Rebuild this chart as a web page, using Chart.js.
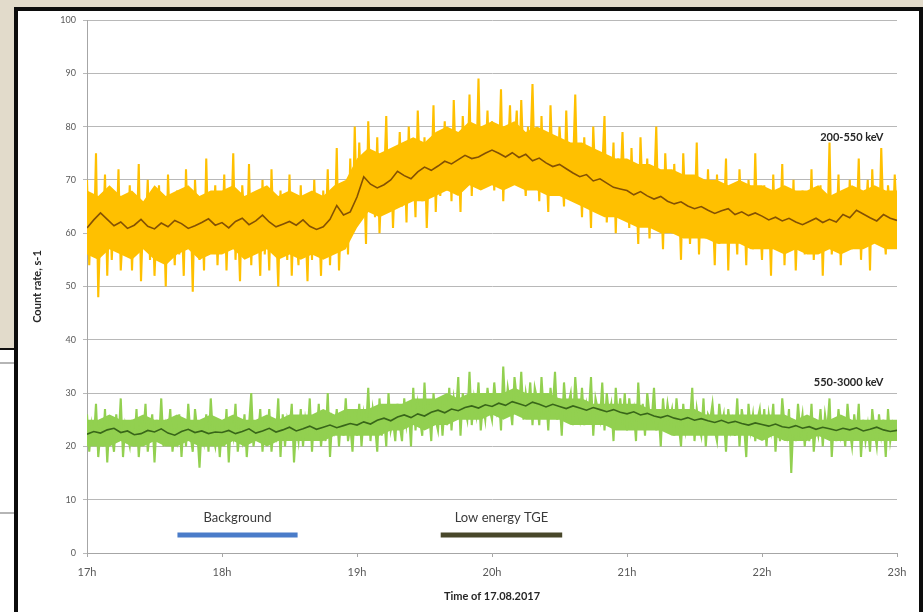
<!DOCTYPE html>
<html>
<head>
<meta charset="utf-8">
<script src="https://cdn.jsdelivr.net/npm/chart.js@4.4.1/dist/chart.umd.min.js"></script>
<style>
    html, body { margin: 0; padding: 0; }
    body { width: 923px; height: 612px; position: relative; overflow: hidden; background: #fff; }
    .stone-top { position: absolute; left: 0; top: 0; width: 923px; height: 8px; background: #e2dbcb; }
    .stone-left { position: absolute; left: 0; top: 0; width: 14px; height: 348px; background: #e2dbcb; border-bottom: 2px solid #111; }
    .slide-line { position: absolute; left: 0; width: 14px; height: 2px; background: #b5b5b5; }
    .panel { position: absolute; left: 14px; top: 7px; width: 901px; height: 640px; border: 4px solid #0c0c0c; border-bottom: none; background: #fff; }
    canvas { position: absolute; left: 0; top: 0; }
</style>
</head>
<body>
<div class="stone-top"></div>
<div class="stone-left"></div>
<div class="slide-line" style="top:362px"></div>
<div class="slide-line" style="top:512px"></div>
<div class="panel"></div>
<canvas id="tgeChart" width="923" height="612"></canvas>
<script>
// time axis in hours: raw samples every minute, running mean every 3 min, dense core band every 5 min
const startHour = 17,
      rawStep = 1 / 60,
      meanStep = 3 / 60,
      bandStep = 5 / 60;

// 200-550 keV, counts per second (17:00 .. 23:00)
const lowRaw = [
    70,54,66,57,75,48,63,59,71,52,68,55,64,58,72,53,61,67,56,69,
    53,66,58,73,51,64,60,70,55,67,52,62,69,57,65,50,71,59,63,54,
    68,56,64,52,72,58,66,49,70,61,55,67,53,74,57,63,59,69,54,65,
    58,71,53,66,60,75,55,64,51,69,62,57,73,54,67,59,63,52,70,56,
    65,53,72,58,62,50,68,57,64,55,71,52,66,60,54,69,56,63,51,67,
    55,70,57,64,52,68,59,72,54,66,58,76,53,65,61,69,56,74,60,80,
    62,77,66,72,58,81,67,74,63,78,60,71,69,82,64,75,61,73,68,79,
    65,76,62,80,68,74,63,83,70,66,78,61,73,69,84,64,77,67,72,81,
    68,79,66,85,71,77,64,82,74,70,86,67,80,72,89,69,78,73,83,70,
    81,68,77,72,87,66,79,74,84,69,76,83,70,85,73,67,80,75,88,71,
    78,66,82,70,75,64,84,71,77,67,80,73,65,83,69,76,72,86,68,74,
    63,78,67,73,61,80,69,75,64,72,82,62,71,66,77,60,74,68,79,65,
    72,61,76,64,70,58,78,66,63,74,59,71,67,80,62,69,57,75,65,70,
    60,73,63,68,55,75,64,70,58,67,62,77,56,69,65,59,72,61,66,54,
    71,58,66,62,74,53,68,60,65,56,72,61,67,54,70,63,57,75,59,64,
    55,69,61,66,52,71,58,64,60,73,54,67,62,57,70,53,65,59,68,56,
    66,58,72,55,64,61,69,52,67,59,77,56,63,60,71,54,65,62,58,70,
    57,68,61,74,55,66,63,70,53,72,60,65,58,76,62,56,69,64,59,71,
    62
];
const lowMean = [
    61.0,62.5,63.8,62.6,61.4,62.1,60.9,61.5,62.6,61.3,60.8,61.9,61.2,62.4,61.8,60.9,61.4,62.0,62.7,61.5,
    62.0,61.0,62.2,62.8,61.6,62.3,63.4,62.1,61.2,61.7,62.2,61.5,62.5,61.3,60.7,61.2,62.6,65.2,63.4,64.0,
    66.8,70.6,69.2,68.5,69.1,70.0,71.6,70.8,70.2,71.5,72.4,71.8,72.6,73.5,73.0,73.8,74.6,74.0,74.3,75.0,
    75.6,75.0,74.3,75.1,74.2,74.8,73.6,74.1,73.2,72.5,72.9,72.1,71.3,70.6,71.0,69.8,70.2,69.4,68.6,68.3,
    68.0,67.2,67.8,67.0,66.4,66.9,66.0,65.5,65.9,65.1,64.6,65.0,64.3,63.7,64.2,64.6,63.5,64.0,63.3,63.8,
    63.2,62.5,63.0,62.3,62.8,62.1,61.6,62.2,62.8,62.0,62.6,62.1,63.5,62.9,64.3,63.6,62.9,62.3,63.5,62.8,
    62.4
];
const lowBandTop = [
    68,67,69,67,68,66,69,67,68,69,67,68,
    68,69,67,68,69,67,68,67,68,67,69,70,
    74,76,75,76,77,78,77,79,80,79,81,80,
    81,80,81,79,80,79,78,77,77,76,75,74,
    74,73,73,72,72,71,71,70,70,69,70,69,
    69,68,69,68,68,69,67,68,69,68,69,68,
    68
];
const lowBandBottom = [
    56,55,57,56,55,57,55,54,56,57,55,56,
    56,57,55,56,57,55,56,55,56,55,56,57,
    61,64,63,64,65,66,66,67,68,67,69,68,
    69,68,69,68,68,67,67,66,65,64,63,63,
    62,61,61,60,60,59,59,59,58,58,58,57,
    57,57,56,57,56,56,57,56,57,57,58,57,
    57
];

// 550-3000 keV
const highRaw = [
    26,19,24,21,28,18,23,20,27,17,25,22,19,26,21,29,18,24,22,20,
    25,20,27,18,24,22,28,19,23,26,17,25,21,29,20,24,22,27,19,23,
    21,26,18,25,20,28,22,19,27,23,16,24,21,26,19,29,22,20,25,18,
    24,20,27,17,25,22,28,19,23,21,26,18,24,30,20,23,22,27,19,25,
    21,27,19,24,22,29,18,26,20,25,23,28,17,24,21,27,20,25,22,29,
    19,26,22,28,20,24,21,30,18,25,23,27,20,26,22,29,21,24,19,27,
    22,28,20,26,23,31,21,27,24,19,29,22,26,20,30,23,25,21,28,24,
    21,29,24,27,20,31,23,28,25,22,32,24,27,21,30,25,23,29,22,28,
    24,31,23,29,26,33,22,30,27,25,34,24,29,26,32,23,28,25,31,27,
    25,32,27,30,23,35,26,31,28,24,33,29,26,34,25,30,27,32,24,31,
    29,24,33,26,30,23,31,27,34,25,29,22,32,26,28,30,24,33,27,25,
    31,24,28,26,33,22,29,27,25,32,23,30,26,28,21,31,25,29,24,30,
    23,29,25,27,21,32,24,28,22,30,26,25,31,23,27,20,29,24,28,25,
    27,22,29,24,20,28,23,26,25,31,21,27,24,22,29,20,26,25,28,23,
    21,28,24,26,19,27,23,25,22,29,20,27,24,18,28,23,26,21,25,27,
    22,27,20,26,23,28,19,25,21,29,24,22,27,15,25,21,28,23,26,20,
    25,21,28,19,24,22,27,20,26,23,29,18,25,21,27,22,24,20,28,23,
    20,26,22,28,18,25,21,24,19,27,23,20,26,22,25,18,27,21,24,22,
    23
];
const highMean = [
    22.3,22.8,22.5,23.1,23.4,22.6,22.9,22.2,22.4,23.0,22.7,23.3,22.5,22.1,22.8,23.2,22.6,22.9,22.4,22.7,
    22.6,23.0,22.4,22.8,23.3,22.5,22.9,23.4,22.7,23.1,23.6,22.9,23.3,23.8,23.2,23.6,24.0,23.5,23.9,24.3,
    24.0,24.6,24.2,24.9,25.3,24.8,25.5,25.9,25.4,26.1,25.7,26.4,26.8,26.3,27.0,26.7,27.3,27.6,27.2,27.8,
    27.5,28.1,27.7,28.4,28.0,27.6,28.3,27.9,27.4,27.9,27.5,27.1,27.6,27.2,26.8,27.3,26.9,26.5,26.9,26.4,
    26.1,26.5,25.9,26.2,25.7,25.4,25.8,25.3,25.0,25.4,24.9,25.2,24.8,24.5,24.9,24.4,24.7,24.3,24.0,24.4,
    24.1,23.8,24.2,23.7,23.5,23.9,23.4,23.7,23.2,23.6,23.3,23.0,23.4,23.1,23.5,22.9,23.2,23.6,23.1,22.8,
    23.0
];
const highBandTop = [
    25,25,26,25,25,26,25,25,26,25,25,26,
    25,26,25,25,26,25,26,26,26,27,26,27,
    27,27,28,28,28,29,29,29,30,29,30,30,
    30,30,31,30,30,30,29,29,29,28,28,28,
    28,28,27,27,27,27,27,26,26,26,26,26,
    26,26,26,25,26,25,25,26,25,25,25,25,
    25
];
const highBandBottom = [
    20,20,20,21,20,20,21,20,20,21,20,20,
    20,21,20,21,20,21,21,21,21,21,22,22,
    22,22,22,23,23,24,23,24,24,25,25,25,
    26,25,26,25,25,25,25,24,24,24,24,23,
    23,23,23,23,22,22,22,22,22,22,22,22,
    21,22,21,21,21,22,21,21,21,21,21,21,
    21
];

// marked time intervals (hours) and the level they are drawn at
const intervalNames = ['Background', 'Low energy TGE'];
const intervalStart = [17.67, 19.62];
const intervalEnd = [18.56, 20.52];
const intervalLevel = 3.4;

const yTicks = [0, 10, 20, 30, 40, 50, 60, 70, 80, 90, 100];

function toPoints(values, step) {
    return values.map((v, i) => ({x: startHour + i * step, y: v}));
}

function intervalSet(ind, color) {
    return {
        data: [{x: intervalStart[ind], y: intervalLevel}, {x: intervalEnd[ind], y: intervalLevel}],
        borderColor: color,
        borderWidth: 5,
        pointRadius: 0,
        order: 0
    };
}

// text notes, placed through the scales
const notesPlugin = {
    id: 'notes',
    afterDatasetsDraw(chart) {
        const ctx = chart.ctx,
              x = chart.scales.x,
              y = chart.scales.y;
        ctx.save();
        ctx.textBaseline = 'middle';
        ctx.fillStyle = '#262626';
        ctx.font = 'bold 11px Lato, "Open Sans", sans-serif';
        ctx.textAlign = 'right';
        ctx.fillText('200-550 keV', x.getPixelForValue(22.9), y.getPixelForValue(78));
        ctx.fillText('550-3000 keV', x.getPixelForValue(22.9), y.getPixelForValue(32));
        ctx.font = '13px Lato, "Open Sans", sans-serif';
        ctx.fillStyle = '#3a3a3a';
        ctx.textAlign = 'center';
        intervalNames.forEach((name, i) => {
            const mid = (intervalStart[i] + intervalEnd[i]) / 2;
            ctx.fillText(name, x.getPixelForValue(mid), y.getPixelForValue(intervalLevel + 3.2));
        });
        ctx.restore();
    }
};

const gold = '#ffc000',
      lime = '#92d050';

new Chart(document.getElementById('tgeChart'), {
    type: 'line',
    data: {
        datasets: [
            {data: toPoints(lowMean, meanStep), borderColor: '#845103', borderWidth: 1.6, pointRadius: 0, order: 1},
            {data: toPoints(lowRaw, rawStep), borderColor: gold, backgroundColor: gold, fill: 0, borderWidth: 2.1, pointRadius: 0, order: 3},
            {data: toPoints(highMean, meanStep), borderColor: '#386619', borderWidth: 1.6, pointRadius: 0, order: 1},
            {data: toPoints(highRaw, rawStep), borderColor: lime, backgroundColor: lime, fill: 2, borderWidth: 2.1, pointRadius: 0, order: 3},
            intervalSet(0, '#4a7cc9'),
            intervalSet(1, '#48472a'),
            {data: toPoints(lowBandBottom, bandStep), borderWidth: 0, pointRadius: 0, order: 4},
            {data: toPoints(lowBandTop, bandStep), borderWidth: 0, pointRadius: 0, backgroundColor: gold, fill: 6, order: 4},
            {data: toPoints(highBandBottom, bandStep), borderWidth: 0, pointRadius: 0, order: 4},
            {data: toPoints(highBandTop, bandStep), borderWidth: 0, pointRadius: 0, backgroundColor: lime, fill: 8, order: 4}
        ]
    },
    options: {
        responsive: false,
        animation: false,
        events: [],
        layout: {padding: {left: 31, right: 26, top: 20, bottom: 0}},
        plugins: {legend: {display: false}, tooltip: {enabled: false}, filler: {propagate: false}},
        elements: {line: {tension: 0}},
        scales: {
            x: {
                type: 'linear',
                min: 17,
                max: 23,
                afterFit: scale => { scale.height = 59; },
                border: {color: '#a6a6a6'},
                grid: {drawOnChartArea: false, tickLength: 4, color: '#a6a6a6'},
                ticks: {
                    stepSize: 1,
                    padding: 9,
                    color: '#595959',
                    font: {family: 'Lato, "Open Sans", sans-serif', size: 11},
                    callback: v => v + 'h'
                },
                title: {
                    display: true,
                    text: 'Time of 17.08.2017',
                    color: '#262626',
                    padding: {top: 2, bottom: 9},
                    font: {family: 'Lato, "Open Sans", sans-serif', size: 11, weight: 'bold'}
                }
            },
            y: {
                min: 0,
                max: 100,
                afterFit: scale => { scale.width = 56; },
                afterBuildTicks: scale => { scale.ticks = yTicks.map(v => ({value: v})); },
                border: {color: '#a6a6a6'},
                grid: {color: '#b8b8b8', tickLength: 4},
                ticks: {
                    padding: 7,
                    color: '#595959',
                    font: {family: 'Lato, "Open Sans", sans-serif', size: 9}
                },
                title: {
                    display: true,
                    text: 'Count rate, s-1',
                    color: '#262626',
                    padding: 0,
                    font: {family: 'Lato, "Open Sans", sans-serif', size: 11, weight: 'bold'}
                }
            }
        }
    },
    plugins: [notesPlugin]
});
</script>
</body>
</html>
